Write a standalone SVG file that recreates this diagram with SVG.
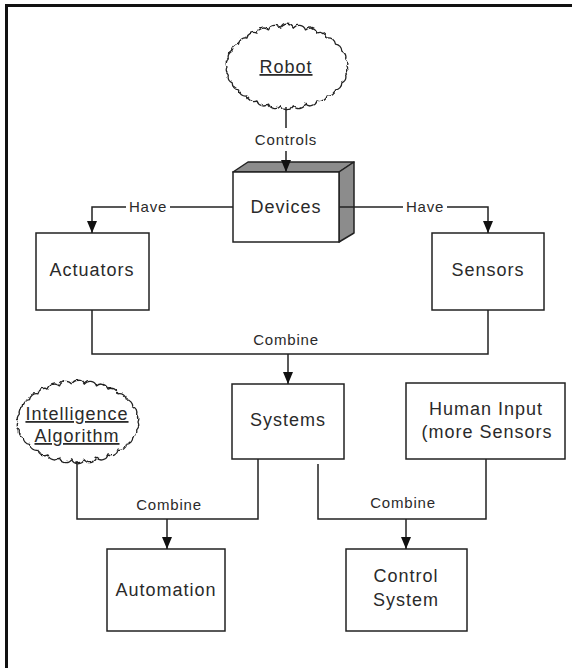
<svg xmlns="http://www.w3.org/2000/svg" width="572" height="668" viewBox="0 0 572 668">
  <style>
    .box { fill: #fff; stroke: #222; stroke-width: 1.5; }
    .wire { fill: none; stroke: #222; stroke-width: 1.5; }
    .arrow { fill: none; stroke: #222; stroke-width: 1.5; marker-end: url(#head); }
    .name { font-family: "Liberation Sans", Arial, sans-serif; font-size: 18px; letter-spacing: 1px; fill: #2a2a2a; text-anchor: middle; }
    .label { font-family: "Liberation Sans", Arial, sans-serif; font-size: 15px; letter-spacing: 0.8px; fill: #2a2a2a; text-anchor: middle; }
    .cloud { fill: #fff; stroke: #222; stroke-width: 1.3; stroke-linejoin: round; filter: url(#rough); }
    .link { text-decoration: underline; }
  </style>
  <defs>
    <marker id="head" viewBox="0 0 12 10" markerWidth="12" markerHeight="10" refX="12" refY="5" orient="auto" markerUnits="userSpaceOnUse">
      <path d="M0,0 L12,5 L0,10 z" fill="#111"/>
    </marker>
    <!-- slight jitter so the scalloped outline looks hand-drawn -->
    <filter id="rough" x="-10%" y="-10%" width="120%" height="120%">
      <feTurbulence type="turbulence" baseFrequency="0.2" numOctaves="1" seed="3" result="noise"/>
      <feDisplacementMap in="SourceGraphic" in2="noise" scale="2.5" xChannelSelector="R" yChannelSelector="G"/>
    </filter>
  </defs>

  <rect width="572" height="668" fill="#fff"/>
  <!-- page frame (top and left edges) -->
  <path d="M6.5,668 V5.5 H572" fill="none" stroke="#111" stroke-width="3"/>

  <g id="robot">
    <path class="cloud" d="M346,66 A7,7 0 0 1 344.7,74.1 A7,7 0 0 1 340.8,81.9 A7,7 0 0 1 334.5,88.9 A7,7 0 0 1 326.1,95 A7,7 0 0 1 316,99.8 A7,7 0 0 1 304.5,103.1 A7,7 0 0 1 292.3,104.8 A7,7 0 0 1 279.7,104.8 A7,7 0 0 1 267.5,103.1 A7,7 0 0 1 256,99.8 A7,7 0 0 1 245.9,95 A7,7 0 0 1 237.5,88.9 A7,7 0 0 1 231.2,81.9 A7,7 0 0 1 227.3,74.1 A7,7 0 0 1 226,66 A7,7 0 0 1 227.3,57.9 A7,7 0 0 1 231.2,50.1 A7,7 0 0 1 237.5,43.1 A7,7 0 0 1 245.9,37 A7,7 0 0 1 256,32.2 A7,7 0 0 1 267.5,28.9 A7,7 0 0 1 279.7,27.2 A7,7 0 0 1 292.3,27.2 A7,7 0 0 1 304.5,28.9 A7,7 0 0 1 316,32.2 A7,7 0 0 1 326.1,37 A7,7 0 0 1 334.5,43.1 A7,7 0 0 1 340.8,50.1 A7,7 0 0 1 344.7,57.9 A7,7 0 0 1 346,66 Z"/>
    <text class="name link" x="286" y="73">Robot</text>
  </g>

  <g id="devices">
    <polygon points="233,172 248,162 354,162 339,172" fill="#8c8c8c" stroke="#222" stroke-width="1.5" stroke-linejoin="round"/>
    <polygon points="339,172 354,162 354,233 339,242" fill="#8c8c8c" stroke="#222" stroke-width="1.5" stroke-linejoin="round"/>
    <rect class="box" x="233" y="172" width="106" height="70"/>
    <text class="name" x="286" y="213">Devices</text>
  </g>

  <g id="actuators">
    <rect class="box" x="36" y="233" width="113" height="77"/>
    <text class="name" x="92" y="276">Actuators</text>
  </g>

  <g id="sensors">
    <rect class="box" x="432" y="233" width="112" height="77"/>
    <text class="name" x="488" y="276">Sensors</text>
  </g>

  <g id="systems">
    <rect class="box" x="232" y="384" width="112" height="75"/>
    <text class="name" x="288" y="426">Systems</text>
  </g>

  <g id="intelligence-algorithm">
    <path class="cloud" d="M137,421 A7,7 0 0 1 135.7,428.9 A7,7 0 0 1 131.8,436.5 A7,7 0 0 1 125.5,443.3 A7,7 0 0 1 117.1,449.2 A7,7 0 0 1 107,453.9 A7,7 0 0 1 95.5,457.1 A7,7 0 0 1 83.3,458.8 A7,7 0 0 1 70.7,458.8 A7,7 0 0 1 58.5,457.1 A7,7 0 0 1 47,453.9 A7,7 0 0 1 36.9,449.2 A7,7 0 0 1 28.5,443.3 A7,7 0 0 1 22.2,436.5 A7,7 0 0 1 18.3,428.9 A7,7 0 0 1 17,421 A7,7 0 0 1 18.3,413.1 A7,7 0 0 1 22.2,405.5 A7,7 0 0 1 28.5,398.7 A7,7 0 0 1 36.9,392.8 A7,7 0 0 1 47,388.1 A7,7 0 0 1 58.5,384.9 A7,7 0 0 1 70.7,383.2 A7,7 0 0 1 83.3,383.2 A7,7 0 0 1 95.5,384.9 A7,7 0 0 1 107,388.1 A7,7 0 0 1 117.1,392.8 A7,7 0 0 1 125.5,398.7 A7,7 0 0 1 131.8,405.5 A7,7 0 0 1 135.7,413.1 A7,7 0 0 1 137,421 Z"/>
    <text class="name link" x="77" y="420">Intelligence</text>
    <text class="name link" x="77" y="442">Algorithm</text>
  </g>

  <g id="human-input">
    <rect class="box" x="406" y="383" width="159" height="76"/>
    <text class="name" x="486" y="415">Human Input</text>
    <text class="name" x="487" y="438">(more Sensors</text>
  </g>

  <g id="automation">
    <rect class="box" x="107" y="549" width="118" height="82"/>
    <text class="name" x="166" y="596">Automation</text>
  </g>

  <g id="control-system">
    <rect class="box" x="346" y="549" width="121" height="82"/>
    <text class="name" x="406" y="582">Control</text>
    <text class="name" x="406" y="606">System</text>
  </g>

  <g id="connectors">
    <!-- Robot controls Devices -->
    <line class="wire" x1="286" y1="107" x2="286" y2="128"/>
    <text class="label" x="286" y="145">Controls</text>
    <line class="arrow" x1="286" y1="151" x2="286" y2="172"/>

    <!-- Devices have Actuators -->
    <line class="wire" x1="233" y1="207" x2="170" y2="207"/>
    <text class="label" x="148" y="212">Have</text>
    <polyline class="arrow" points="126,207 92,207 92,233"/>

    <!-- Devices have Sensors (runs across the side face) -->
    <line class="wire" x1="339" y1="207" x2="403" y2="207"/>
    <text class="label" x="425" y="212">Have</text>
    <polyline class="arrow" points="447,207 488,207 488,233"/>

    <!-- Actuators + Sensors combine into Systems -->
    <polyline class="wire" points="92,310 92,354 488,354 488,310"/>
    <text class="label" x="286" y="345">Combine</text>
    <line class="arrow" x1="288" y1="354" x2="288" y2="384"/>

    <!-- Intelligence Algorithm + Systems combine into Automation -->
    <polyline class="wire" points="77,461 77,519 258,519 258,459"/>
    <text class="label" x="169" y="510">Combine</text>
    <line class="arrow" x1="167" y1="519" x2="167" y2="549"/>

    <!-- Systems + Human Input combine into Control System -->
    <polyline class="wire" points="318,464 318,519 486,519 486,459"/>
    <text class="label" x="403" y="508">Combine</text>
    <line class="arrow" x1="406" y1="519" x2="406" y2="549"/>
  </g>
</svg>
